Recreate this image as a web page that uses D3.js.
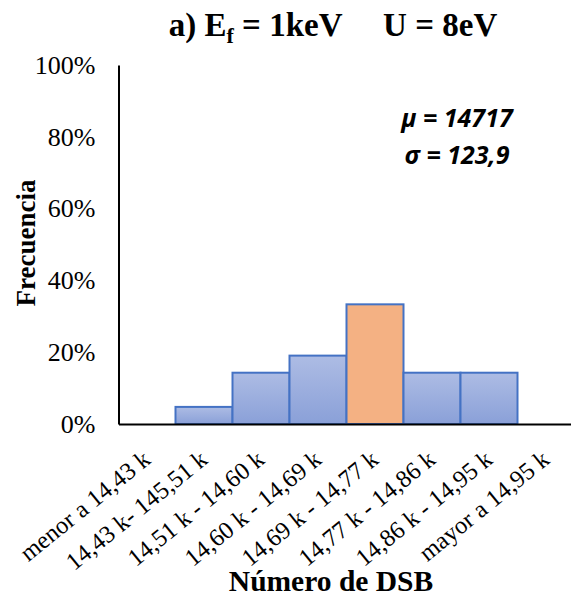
<!DOCTYPE html>
<html>
<head>
<meta charset="utf-8">
<script src="https://cdn.jsdelivr.net/npm/d3@7"></script>
<style>
  html, body { margin: 0; padding: 0; background: #fff; }
  svg { display: block; }
</style>
</head>
<body>
<svg id="chart" width="571" height="600"></svg>
<script>
// Histogram bins (DSB count ranges) and relative frequency of each bin
const categories = [
  "menor a 14,43 k",
  "14,43 k- 145,51 k",
  "14,51 k - 14,60 k",
  "14,60 k - 14,69 k",
  "14,69 k - 14,77 k",
  "14,77 k - 14,86 k",
  "14,86 k - 14,95 k",
  "mayor a 14,95 k"
];
const frequencies = [0, 1/21, 3/21, 4/21, 7/21, 3/21, 3/21, 0];
const highlightIndex = 4;
const yTicks = [0, 0.2, 0.4, 0.6, 0.8, 1.0];

const svg = d3.select("#chart");
const serif = "'Liberation Serif', 'Times New Roman', serif";

const plot = { left: 118.5, right: 574.5, top: 65, bottom: 424 };

const x = d3.scaleBand()
  .domain(categories)
  .range([plot.left, plot.right])
  .paddingInner(0)
  .paddingOuter(0);

const y = d3.scaleLinear()
  .domain([0, 1])
  .range([plot.bottom, plot.top]);

// Vertical gradient for the regular bars
const defs = svg.append("defs");
const grad = defs.append("linearGradient")
  .attr("id", "barBlue")
  .attr("x1", 0).attr("y1", 0).attr("x2", 0).attr("y2", 1);
grad.append("stop").attr("offset", "0%").attr("stop-color", "#adbce4");
grad.append("stop").attr("offset", "100%").attr("stop-color", "#8aa0d8");

// Bars
svg.append("g")
  .selectAll("rect")
  .data(categories.map((c, i) => ({ c, v: frequencies[i], i })).filter(d => d.v > 0))
  .join("rect")
  .attr("x", d => x(d.c))
  .attr("y", d => y(d.v))
  .attr("width", x.bandwidth())
  .attr("height", d => y(0) - y(d.v))
  .attr("fill", d => d.i === highlightIndex ? "#f4b183" : "url(#barBlue)")
  .attr("stroke", "#4472c4")
  .attr("stroke-width", 2);

// Y axis
const yAxis = d3.axisLeft(y)
  .tickValues(yTicks)
  .tickFormat(d3.format(".0%"))
  .tickSize(0)
  .tickPadding(23);
const gy = svg.append("g")
  .attr("transform", `translate(${plot.left},0)`)
  .call(yAxis);
gy.select(".domain").attr("stroke", "#000").attr("stroke-width", 2);
gy.selectAll(".tick text")
  .attr("font-family", serif)
  .attr("font-size", 26)
  .attr("fill", "#000");

// X axis
const xAxis = d3.axisBottom(x).tickSize(0).tickPadding(0);
const gx = svg.append("g")
  .attr("transform", `translate(0,${plot.bottom})`)
  .call(xAxis);
gx.select(".domain").attr("stroke", "#000").attr("stroke-width", 2.2);
gx.selectAll(".tick text")
  .attr("font-family", serif)
  .attr("font-size", 24.5)
  .attr("fill", "#000")
  .attr("text-anchor", "end")
  .attr("dy", 0)
  .attr("transform", "translate(5,38) rotate(-39)");

// Title
const title = svg.append("text")
  .attr("x", 333)
  .attr("y", 36)
  .attr("text-anchor", "middle")
  .attr("font-family", serif)
  .attr("font-weight", "bold")
  .attr("font-size", 33)
  .attr("fill", "#000");
title.append("tspan").text("a) E");
title.append("tspan").attr("font-size", 22).attr("dy", 7).text("f");
title.append("tspan").attr("dy", -7).attr("xml:space", "preserve").text(" = 1keV     U = 8eV");

// Axis titles
svg.append("text")
  .attr("transform", `translate(35,243) rotate(-90)`)
  .attr("text-anchor", "middle")
  .attr("font-family", serif)
  .attr("font-weight", "bold")
  .attr("font-size", 27)
  .attr("fill", "#000")
  .text("Frecuencia");

svg.append("text")
  .attr("x", 331)
  .attr("y", 591)
  .attr("text-anchor", "middle")
  .attr("font-family", serif)
  .attr("font-weight", "bold")
  .attr("font-size", 29.5)
  .attr("fill", "#000")
  .text("Número de DSB");

// Summary statistics
const stats = ["μ = 14717", "σ = 123,9"];
svg.append("g")
  .selectAll("text")
  .data(stats)
  .join("text")
  .attr("x", 457)
  .attr("y", (d, i) => 127 + i * 37)
  .attr("text-anchor", "middle")
  .attr("font-family", "'Open Sans', 'Liberation Sans', sans-serif")
  .attr("font-weight", "bold")
  .attr("font-style", "italic")
  .attr("font-size", 25)
  .attr("fill", "#000")
  .text(d => d);
</script>
</body>
</html>
